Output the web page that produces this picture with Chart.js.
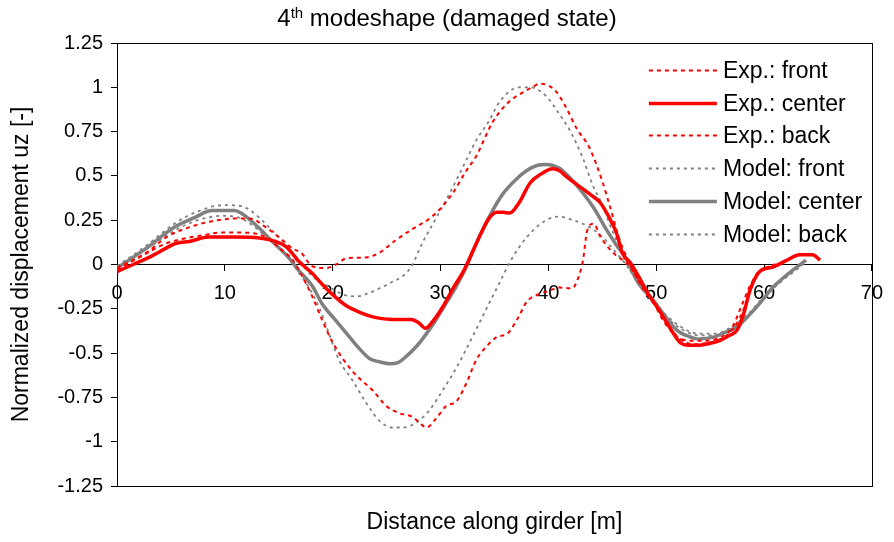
<!DOCTYPE html>
<html><head><meta charset="utf-8">
<script src="https://cdn.jsdelivr.net/npm/chart.js@4/dist/chart.umd.min.js"></script>
<style>html,body{margin:0;padding:0;background:#fff;}#wrap{width:894px;height:542px;}</style>
</head><body><div id="wrap"><canvas id="c" width="894" height="542"></canvas></div>
<script>
// ---- text ----
const titleMain = '4';
const titleSup = 'th';
const titleRest = ' modeshape (damaged state)';
const xAxisTitle = 'Distance along girder [m]';
const yAxisTitle = 'Normalized displacement uz [-]';
const seriesLabels = ['Exp.: front', 'Exp.: center', 'Exp.: back', 'Model: front', 'Model: center', 'Model: back'];

// ---- axes ----
const xMin = 0, xMax = 70, xStep = 10;
const yMin = -1.25, yMax = 1.25, yStep = 0.25;

// ---- series (distance [m] / normalized displacement) ----
const expFrontX = [0,2.8,4.6,7.2,9.3,11.1,12.3,13.8,15.3,16.3,17.1,18.1,19.4,20.3,21.3,23.1,24.3,25.9,27.4,29,29.9,31.1,32.4,33.3,34.8,36.2,37.6,38.5,39.2,40,40.8,41.7,42.6,43.8,45,45.7,46.6,47.5,48.7,50,51.2,52.2,53.5,55,56.3,57.3,58.2,58.9,59.6,60.5,61.5];
const expFrontY = [-0.02,0.07,0.155,0.22,0.25,0.26,0.26,0.21,0.14,0.09,0.065,-0.01,-0.02,0,0.035,0.04,0.065,0.14,0.20,0.26,0.31,0.40,0.53,0.61,0.80,0.91,0.97,1.0,1.02,1.01,0.97,0.88,0.77,0.66,0.47,0.33,0.14,0.01,-0.13,-0.24,-0.35,-0.42,-0.45,-0.44,-0.41,-0.35,-0.24,-0.12,-0.04,-0.01,0.01];

const expCenterX = [0,1.5,3.3,5.5,6.7,8.5,11,13.2,14.7,15.7,16.9,18.1,19,20,21.2,22.5,24,25.5,27.3,28,28.6,29.3,30.2,31.2,32.2,33.1,33.9,34.5,35.2,35.8,36.4,37.3,38.3,39.3,40.4,41,41.7,42.9,44,44.8,45.6,46.3,46.9,47.6,48.3,49.3,50.3,51.2,52.2,53,54,55,55.9,56.8,57.5,58.1,58.7,59.6,60.8,62,63.3,64.5,65.2];
const expCenterY = [-0.04,0,0.05,0.12,0.13,0.155,0.155,0.15,0.13,0.10,0.015,-0.05,-0.11,-0.17,-0.23,-0.27,-0.30,-0.31,-0.31,-0.33,-0.36,-0.32,-0.24,-0.13,-0.03,0.09,0.195,0.26,0.295,0.295,0.29,0.35,0.46,0.51,0.54,0.53,0.495,0.44,0.39,0.35,0.27,0.18,0.06,0.01,-0.06,-0.17,-0.26,-0.35,-0.44,-0.455,-0.455,-0.445,-0.43,-0.40,-0.37,-0.28,-0.145,-0.04,-0.015,0.02,0.055,0.055,0.025];

const expBackX = [0,2.8,4.6,6.5,8,9.6,11.3,13.8,15.3,16.3,17.3,18.1,19,20,21.8,23.7,25,26.2,27.4,28,28.7,29.7,30.5,31.5,32.4,33.3,34.3,35.2,36.2,37.2,38,39,40,41,42.2,42.8,43.2,43.6,44.2,44.8,45.5,46.3,47.4,48.5,49.6,50.8,52,53.3,54.6,56,57,58,58.7,59.5,60.5];
const expBackY = [-0.03,0.065,0.12,0.15,0.165,0.18,0.18,0.155,0.08,0.025,-0.08,-0.18,-0.31,-0.44,-0.60,-0.71,-0.80,-0.84,-0.86,-0.89,-0.92,-0.86,-0.80,-0.77,-0.67,-0.54,-0.46,-0.41,-0.39,-0.30,-0.21,-0.17,-0.15,-0.13,-0.135,-0.07,0.02,0.19,0.23,0.16,0.10,0.05,0,-0.1,-0.2,-0.33,-0.41,-0.43,-0.43,-0.41,-0.36,-0.22,-0.12,-0.04,-0.01];

const modelFrontX = [0,2.8,5.3,7.5,9.9,11.5,12.9,14.1,15.5,16.8,18,19.5,21,22.2,23.4,24.5,25.3,26.8,27.4,28.3,29.3,30.4,31.5,32.4,33.3,34.4,35.5,37.3,38.3,39.8,41,42.1,43.2,44.1,44.9,46,47.3,48.5,49.7,51,52.5,54,55.5,57,58.5,60,61.5,63,63.8];
const modelFrontY = [-0.01,0.11,0.23,0.30,0.335,0.33,0.28,0.21,0.12,0.03,-0.06,-0.12,-0.17,-0.18,-0.16,-0.13,-0.105,-0.05,0,0.12,0.23,0.35,0.48,0.59,0.70,0.80,0.92,1.0,1.0,0.95,0.85,0.745,0.60,0.45,0.35,0.18,0,-0.12,-0.20,-0.29,-0.36,-0.39,-0.39,-0.35,-0.28,-0.18,-0.09,-0.02,0.01];

const modelCenterX = [0,2.8,5.3,7.2,8.8,10.9,11.5,13.1,14.4,15.9,16.8,18.1,19,20.2,21.3,22.4,23.4,24.4,25.3,26,26.8,27.8,28.7,29.6,30.5,31.5,32.4,33.6,34.7,35.8,37,38,39,39.8,41,42,43,44.2,45.4,46.3,47.3,48.3,49.7,50.8,51.9,53,54,55.3,56.5,57.5,58.4,59.6,60.8,61.8,62.7,63.9];
const modelCenterY = [-0.02,0.095,0.21,0.265,0.305,0.305,0.29,0.21,0.13,0.04,-0.03,-0.12,-0.22,-0.31,-0.39,-0.47,-0.53,-0.55,-0.56,-0.555,-0.52,-0.46,-0.39,-0.31,-0.22,-0.12,-0.01,0.155,0.29,0.40,0.48,0.53,0.56,0.565,0.545,0.49,0.42,0.32,0.195,0.11,0.025,-0.1,-0.2,-0.29,-0.37,-0.405,-0.42,-0.41,-0.38,-0.35,-0.30,-0.22,-0.13,-0.075,-0.03,0.025];

const modelBackX = [0,2.8,5.3,7.5,9.9,11.5,13,14.5,15.8,16.9,17.8,18.8,19.6,20.6,21.8,23.1,24.3,25.5,26.5,27.8,29,30.2,31.5,32.7,33.6,34.5,35.5,36.4,38,39.8,41,42.3,43.2,44.1,45,46.1,47.2,48.5,49.7,51,52.5,54,55.5,57,58.5,60,61.5,63,63.8];
const modelBackY = [-0.01,0.09,0.19,0.25,0.275,0.26,0.20,0.12,0.04,-0.05,-0.13,-0.25,-0.38,-0.54,-0.65,-0.78,-0.88,-0.92,-0.92,-0.89,-0.82,-0.71,-0.58,-0.44,-0.33,-0.22,-0.10,0.01,0.155,0.25,0.27,0.25,0.23,0.20,0.155,0.08,0,-0.12,-0.21,-0.30,-0.37,-0.40,-0.40,-0.36,-0.29,-0.19,-0.10,-0.03,0.01];

const pts = (xs, ys) => xs.map((x, i) => ({x: x, y: ys[i]}));

const RED = '#ff0000', GREY = '#808080';
const FONT = "'Liberation Sans', Arial, sans-serif";

const datasets = [
  {label: seriesLabels[0], data: pts(expFrontX, expFrontY), borderColor: RED, borderWidth: 2, borderDash: [4, 4]},
  {label: seriesLabels[1], data: pts(expCenterX, expCenterY), borderColor: RED, borderWidth: 3.5, borderDash: []},
  {label: seriesLabels[2], data: pts(expBackX, expBackY), borderColor: RED, borderWidth: 2, borderDash: [4, 4]},
  {label: seriesLabels[3], data: pts(modelFrontX, modelFrontY), borderColor: GREY, borderWidth: 1.8, borderDash: [3, 4]},
  {label: seriesLabels[4], data: pts(modelCenterX, modelCenterY), borderColor: GREY, borderWidth: 3.5, borderDash: []},
  {label: seriesLabels[5], data: pts(modelBackX, modelBackY), borderColor: GREY, borderWidth: 1.8, borderDash: [3, 4]}
].map(d => Object.assign(d, {
  xAxisID: 'x', yAxisID: 'y', fill: false, pointRadius: 0, pointHoverRadius: 0,
  cubicInterpolationMode: 'monotone', backgroundColor: d.borderColor
}));

// Draw plot-area frame, title with superscript, and legend inside the plot
const decor = {
  id: 'decor',
  beforeDatasetsDraw(chart) {
    const {ctx, chartArea: a} = chart;
    ctx.save();
    ctx.strokeStyle = '#000';
    ctx.lineWidth = 1;
    ctx.strokeRect(Math.round(a.left) + 0.5, Math.round(a.top) + 0.5, Math.round(a.right - a.left), Math.round(a.bottom - a.top));
    ctx.restore();
  },
  afterDraw(chart) {
    const {ctx, chartArea: a} = chart;
    ctx.save();
    // title
    const fMain = '24px ' + FONT, fSup = '15px ' + FONT;
    ctx.font = fMain; const w1 = ctx.measureText(titleMain).width; const w3 = ctx.measureText(titleRest).width;
    ctx.font = fSup; const w2 = ctx.measureText(titleSup).width;
    let x = chart.width / 2 - (w1 + w2 + w3) / 2;
    const by = 26;
    ctx.fillStyle = '#000'; ctx.textBaseline = 'alphabetic'; ctx.textAlign = 'left';
    ctx.font = fMain; ctx.fillText(titleMain, x, by); x += w1;
    ctx.font = fSup; ctx.fillText(titleSup, x, by - 8); x += w2;
    ctx.font = fMain; ctx.fillText(titleRest, x, by);
    // legend
    const lx0 = a.right - 223, lx1 = a.right - 155, tx = a.right - 149;
    const ly0 = a.top + 27, dy = 32.7;
    ctx.font = '23px ' + FONT; ctx.textBaseline = 'middle';
    chart.data.datasets.forEach((d, i) => {
      const y = Math.round(ly0 + i * dy) + 0.5;
      ctx.beginPath();
      ctx.strokeStyle = d.borderColor; ctx.lineWidth = d.borderWidth;
      ctx.setLineDash(d.borderDash || []);
      ctx.moveTo(lx0, y); ctx.lineTo(lx1, y); ctx.stroke();
      ctx.setLineDash([]);
      ctx.fillStyle = '#000';
      ctx.fillText(d.label, tx, y + 1);
    });
    ctx.restore();
  }
};

new Chart(document.getElementById('c'), {
  type: 'line',
  data: {datasets},
  options: {
    responsive: false, devicePixelRatio: 1, animation: false,
    layout: {padding: {top: 43, right: 17, left: 0, bottom: 0}},
    plugins: {legend: {display: false}, title: {display: false}, tooltip: {enabled: false}},
    scales: {
      x: {
        type: 'linear', axis: 'x', min: xMin, max: xMax, position: {y: 0},
        ticks: {stepSize: xStep, color: '#000', font: {family: FONT, size: 20}, padding: 11, maxRotation: 0},
        grid: {drawOnChartArea: false, drawTicks: true, tickLength: 6, color: '#000'},
        border: {display: true, color: '#000', width: 1}
      },
      xt: {
        type: 'linear', axis: 'x', min: xMin, max: xMax, position: 'bottom',
        ticks: {display: false}, grid: {display: false}, border: {display: false},
        title: {display: true, text: xAxisTitle, color: '#000', font: {family: FONT, size: 23}, padding: {top: 0, bottom: 6}},
        afterFit: s => { s.height = 56; }
      },
      y: {
        type: 'linear', axis: 'y', min: yMin, max: yMax, position: 'left',
        ticks: {stepSize: yStep, color: '#000', font: {family: FONT, size: 20}, padding: 8,
          callback: v => String(parseFloat(Number(v).toFixed(2)))},
        grid: {drawOnChartArea: false, drawTicks: true, tickLength: 6, color: '#000'},
        border: {display: true, color: '#000', width: 1},
        title: {display: true, text: yAxisTitle, color: '#000', font: {family: FONT, size: 23}, padding: {top: 8, bottom: 0}},
        afterFit: s => { s.width = 117; }
      }
    }
  },
  plugins: [decor]
});
</script></body></html>
